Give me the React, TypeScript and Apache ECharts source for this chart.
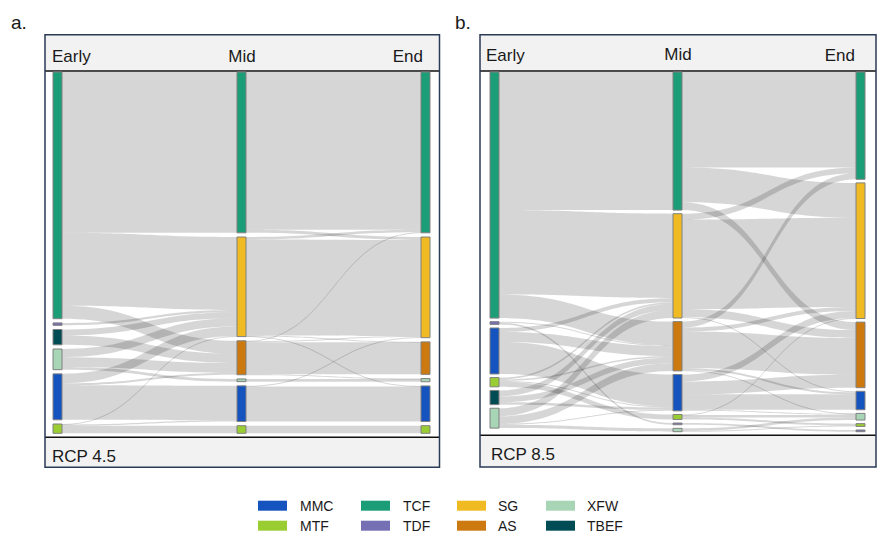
import React, { useEffect, useRef } from "react";
import * as echarts from "echarts";

type Flow = [string, string, number];

// ---- text / categories ----
const periods = ["Early", "Mid", "End"];
const panelTags = ["a.", "b."];
const scenarios = ["RCP 4.5", "RCP 8.5"];
const legendRow1 = ["MMC", "TCF", "SG", "XFW"];
const legendRow2 = ["MTF", "TDF", "AS", "TBEF"];

// ---- RCP 4.5 : node order per period ----
const rcp45Early = ["TCF", "TDF", "TBEF", "XFW", "MMC", "MTF"];
const rcp45Mid = ["TCF", "SG", "AS", "XFW", "MMC", "MTF"];
const rcp45End = ["TCF", "SG", "AS", "XFW", "MMC", "MTF"];

// ---- RCP 4.5 : flows (share of area) ----
const rcp45EarlyToMid: Flow[] = [
  ["TCF", "TCF", 161], ["TCF", "SG", 73], ["TCF", "AS", 13],
  ["TDF", "SG", 2.4],
  ["TBEF", "SG", 6], ["TBEF", "AS", 9.3],
  ["XFW", "SG", 8.3], ["XFW", "AS", 9.7], ["XFW", "XFW", 2.7],
  ["MMC", "SG", 9.5], ["MMC", "AS", 2], ["MMC", "MMC", 34.5],
  ["MTF", "SG", 0.5], ["MTF", "MMC", 1.2], ["MTF", "MTF", 7.6],
];
const rcp45MidToEnd: Flow[] = [
  ["TCF", "TCF", 158], ["TCF", "SG", 3],
  ["SG", "TCF", 2.5], ["SG", "SG", 96.2], ["SG", "AS", 0.5], ["SG", "MMC", 0.5],
  ["AS", "TCF", 0.5], ["AS", "SG", 1], ["AS", "AS", 32], ["AS", "XFW", 0.5],
  ["XFW", "XFW", 2.7],
  ["MMC", "SG", 0.6], ["MMC", "MMC", 35.1],
  ["MTF", "MTF", 7.6],
];

// ---- RCP 8.5 : node order per period ----
const rcp85Early = ["TCF", "TDF", "MMC", "MTF", "TBEF", "XFW"];
const rcp85Mid = ["TCF", "SG", "AS", "MMC", "MTF", "TDF", "XFW"];
const rcp85End = ["TCF", "SG", "AS", "MMC", "XFW", "MTF", "TDF"];

// ---- RCP 8.5 : flows ----
const rcp85EarlyToMid: Flow[] = [
  ["TCF", "TCF", 139], ["TCF", "SG", 85], ["TCF", "AS", 23.7],
  ["TDF", "AS", 1], ["TDF", "TDF", 1.7],
  ["MMC", "SG", 4], ["MMC", "AS", 10], ["MMC", "MMC", 32.3],
  ["MTF", "SG", 2], ["MTF", "AS", 1.3], ["MTF", "MMC", 1], ["MTF", "MTF", 5],
  ["TBEF", "SG", 6], ["TBEF", "AS", 6], ["TBEF", "MMC", 2.3],
  ["XFW", "SG", 8], ["XFW", "AS", 7.6], ["XFW", "MMC", 1], ["XFW", "XFW", 3.4],
];
const rcp85MidToEnd: Flow[] = [
  ["TCF", "TCF", 96], ["TCF", "SG", 35], ["TCF", "AS", 8],
  ["SG", "TCF", 6], ["SG", "SG", 90], ["SG", "AS", 8], ["SG", "MMC", 1],
  ["AS", "TCF", 6], ["AS", "SG", 4], ["AS", "AS", 37], ["AS", "MMC", 2], ["AS", "XFW", 0.6],
  ["MMC", "SG", 7], ["MMC", "AS", 13], ["MMC", "MMC", 15.6], ["MMC", "XFW", 1],
  ["MTF", "SG", 0.5], ["MTF", "XFW", 2.5], ["MTF", "MTF", 2],
  ["TDF", "TDF", 1.7],
  ["XFW", "XFW", 2.6], ["XFW", "MTF", 0.8],
];

// ---- styles ----
const categoryColors: Record<string, string> = {
  MMC: "#1553bf",
  MTF: "#9acd32",
  TCF: "#1b9e77",
  TDF: "#7570b3",
  SG: "#f0bb22",
  AS: "#cc7a0f",
  XFW: "#a7d5b5",
  TBEF: "#004c55",
};
const FONT = "'Liberation Sans', Arial, Helvetica, sans-serif";
const TEXT = "#1a1a1a";

function buildSankey(cols: string[][], flows: Flow[][], box: { left: number; top: number; width: number; height: number }, gap: number) {
  const data: any[] = [];
  cols.forEach((col, ci) =>
    col.forEach((cat) =>
      data.push({ name: `${periods[ci]} ${cat}`, itemStyle: { color: categoryColors[cat] } })
    )
  );
  const links: any[] = [];
  flows.forEach((fl, fi) =>
    fl.forEach(([s, t, v]) =>
      links.push({ source: `${periods[fi]} ${s}`, target: `${periods[fi + 1]} ${t}`, value: v })
    )
  );
  return {
    type: "sankey",
    left: box.left,
    top: box.top,
    width: box.width,
    height: box.height,
    nodeWidth: 9,
    nodeGap: gap,
    layoutIterations: 0,
    draggable: false,
    silent: true,
    label: { show: false },
    emphasis: { disabled: true },
    itemStyle: { borderColor: "#808080", borderWidth: 1 },
    lineStyle: { color: "#000", opacity: 0.16, curveness: 0.5 },
    data,
    links,
  };
}

function frame(x0: number, x1: number, y0: number, yHead: number, yFoot: number, y1: number) {
  const w = x1 - x0;
  return [
    { type: "rect", shape: { x: x0, y: y0, width: w, height: yHead - y0 }, style: { fill: "#f2f2f2" } },
    { type: "rect", shape: { x: x0, y: yFoot, width: w, height: y1 - yFoot }, style: { fill: "#f2f2f2" } },
    { type: "line", shape: { x1: x0, y1: yHead, x2: x1, y2: yHead }, style: { stroke: "#111", lineWidth: 1.6 } },
    { type: "line", shape: { x1: x0, y1: yFoot, x2: x1, y2: yFoot }, style: { stroke: "#111", lineWidth: 1.6 } },
    { type: "rect", shape: { x: x0, y: y0, width: w, height: y1 - y0 }, style: { fill: "none", stroke: "#2b3a55", lineWidth: 1.5 } },
  ];
}

function txt(text: string, x: number, y: number, size: number, align: string) {
  return {
    type: "text",
    x,
    y,
    style: { text, fill: TEXT, font: `${size}px ${FONT}`, align, verticalAlign: "middle" },
  };
}

export default function App() {
  const ref = useRef<HTMLDivElement>(null);
  useEffect(() => {
    if (!ref.current) return;
    const chart = echarts.init(ref.current, null, { renderer: "svg" });

    const graphic: any[] = [];
    graphic.push(...frame(45, 439.5, 34.7, 71, 437.3, 467.3));
    graphic.push(...frame(480, 876, 34.7, 71, 435.3, 467));

    // panel tags
    graphic.push(txt(panelTags[0], 11, 22, 19, "left"));
    graphic.push(txt(panelTags[1], 455, 22, 19, "left"));

    // period headers
    graphic.push(txt(periods[0], 52, 56, 17, "left"));
    graphic.push(txt(periods[1], 242, 56, 17, "center"));
    graphic.push(txt(periods[2], 423, 56, 17, "right"));
    graphic.push(txt(periods[0], 486, 55, 17, "left"));
    graphic.push(txt(periods[1], 678, 54, 17, "center"));
    graphic.push(txt(periods[2], 855, 55, 17, "right"));

    // scenarios
    graphic.push(txt(scenarios[0], 52, 456, 17, "left"));
    graphic.push(txt(scenarios[1], 491, 454, 17, "left"));

    // legend
    const colRect = [258, 361, 457, 546];
    const colText = [300, 403, 498, 587];
    [legendRow1, legendRow2].forEach((row, ri) => {
      const yRect = 500.7 + ri * 20;
      row.forEach((name, i) => {
        graphic.push({
          type: "rect",
          shape: { x: colRect[i], y: yRect, width: 29, height: 10 },
          style: { fill: categoryColors[name] },
        });
        graphic.push(txt(name, colText[i], yRect + 5, 14, "left"));
      });
    });

    chart.setOption({
      animation: false,
      graphic,
      series: [
        buildSankey(
          [rcp45Early, rcp45Mid, rcp45End],
          [rcp45EarlyToMid, rcp45MidToEnd],
          { left: 53, top: 72, width: 377, height: 361.3 },
          4.2
        ),
        buildSankey(
          [rcp85Early, rcp85Mid, rcp85End],
          [rcp85EarlyToMid, rcp85MidToEnd],
          { left: 490, top: 72, width: 375, height: 359.7 },
          3.6
        ),
      ],
    });
    return () => chart.dispose();
  }, []);
  return (
    <div
      ref={ref}
      style={{ position: "fixed", left: 0, top: 0, width: 880, height: 533, background: "#fff" }}
    />
  );
}
